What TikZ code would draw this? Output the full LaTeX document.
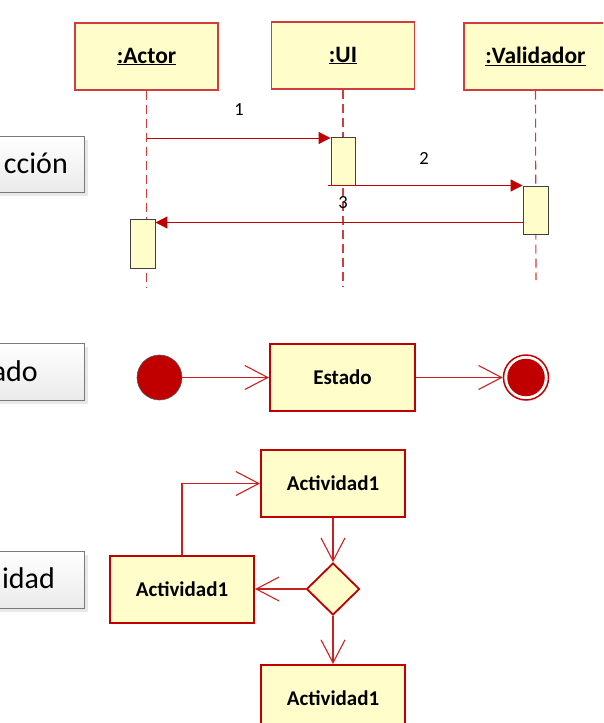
\documentclass[tikz,border=0pt]{standalone}
\usepackage{fontspec}
\setmainfont{Carlito}
\usetikzlibrary{arrows.meta,shapes.geometric,shadows}
\definecolor{ured}{HTML}{C00000}
\definecolor{hred}{HTML}{D23C3C}
\definecolor{fred}{HTML}{CC2020}
\definecolor{uyel}{HTML}{FFFDCA}
\definecolor{btnedge}{HTML}{7A7A7A}
\begin{document}
\begin{tikzpicture}[x=1pt,y=-1pt,
  lifehead/.style={draw=hred, line width=1.2pt, fill=uyel, minimum width=143pt,
    minimum height=67pt, inner sep=0pt, font=\fontsize{23.5}{28}\selectfont\bfseries},
  activation/.style={draw=black!75, line width=0.9pt, fill=uyel, minimum width=24pt,
    minimum height=48pt, inner sep=0pt},
  lifeline/.style={draw=hred, line width=1.1pt, dash pattern=on 9pt off 5pt},
  msg/.style={draw=ured, line width=1pt, -{Triangle[length=12pt,width=12pt]}},
  msglabel/.style={font=\fontsize{18.5}{22}\selectfont, inner sep=0pt},
  umlbox/.style={draw=ured, line width=2pt, fill=uyel, minimum width=144pt,
    minimum height=67pt, inner sep=0pt, font=\fontsize{21}{25}\selectfont\bfseries},
  flow/.style={draw=fred, line width=1.1pt, -{Straight Barb[length=23pt,width=24pt]}},
  btn/.style={draw=btnedge, line width=1pt, top color=white, bottom color=black!8,
    drop shadow={shadow xshift=4pt, shadow yshift=-4pt, fill=black!9, opacity=1},
    inner sep=0pt, minimum width=150pt, minimum height=57pt},
  btntext/.style={font=\fontsize{30}{36}\selectfont, inner sep=0pt}
]
\useasboundingbox (0,0) rectangle (603,723);
\clip (0,0) rectangle (603,723);

% side buttons
\node[btn, minimum height=56pt] (b1) at (9,164) {};
\node[btntext, anchor=base east] (t1) at (68,173) {cción};
\node[btn] (b2) at (9,371.5) {};
\node[btntext, anchor=base east] (t2) at (38,381) {ado};
\node[btn] (b3) at (9,579.5) {};
\node[btntext, anchor=base east] (t3) at (55,588) {idad};

% sequence diagram
\node[lifehead] (actor) at (146.5,56.5) {\underline{:Actor}};
\node[lifehead] (ui) at (343,55.5) {\underline{:UI}};
\node[lifehead] (val) at (535.5,56.5) {\underline{:Validador}};

\coordinate (aEnd) at (146.5,287);
\coordinate (uEnd) at (343,287);
\coordinate (vEnd) at (536,280);
\draw[lifeline] (actor.south) -- (aEnd);
\draw[lifeline] (ui.south) -- (uEnd);
\draw[lifeline] (val.south) -- (vEnd);

\node[activation] (act1) at (343,161) {};
\node[activation, minimum width=25pt] (act2) at (535.5,210) {};
\node[activation, minimum width=25pt, minimum height=49pt] (act3) at (142.5,243.5) {};

\coordinate (m1s) at (146.5,138);
\draw[msg] (m1s) -- (m1s -| act1.west);
\coordinate (m2s) at (328,185.5);
\draw[msg] (m2s) -- (m2s -| act2.west);
\path (act2.west) ++(0,12.5) coordinate (m3s);
\draw[msg] (m3s) -- (m3s -| act3.east);

\node[msglabel] (l1) at (239,110) {1};
\node[msglabel] (l2) at (424,158) {2};
\node[msglabel] (l3) at (343,203) {3};

% state diagram
\node[circle, fill=ured, draw=black!65, line width=0.6pt, minimum size=45pt, inner sep=0pt] (init) at (159.5,377.5) {};
\node[umlbox, minimum width=145pt] (st) at (342.5,377.5) {Estado};
\node[circle, draw=ured, line width=1.5pt, fill=white, minimum size=45pt, inner sep=0pt] (fin) at (526,377.5) {};
\node[circle, fill=ured, minimum size=37.5pt, inner sep=0pt] (finin) at (fin) {};
\draw[flow] (init) -- (st);
\draw[flow] (st) -- (fin);

% activity diagram
\node[umlbox] (a1) at (333,483.5) {Actividad1};
\node[umlbox] (a2) at (182,589.5) {Actividad1};
\node[umlbox] (a3) at (333,698.5) {Actividad1};
\node[diamond, draw=ured, line width=1.8pt, fill=uyel, minimum width=53pt,
  minimum height=52pt, inner sep=0pt] (dec) at (333,589) {};
\draw[flow] (a1) -- (dec);
\draw[flow] (dec.west) -- (dec.west -| a2.east);
\draw[flow] (dec) -- (a3);
\draw[flow] (a2.north) |- (a1.west);
\end{tikzpicture}
\end{document}
